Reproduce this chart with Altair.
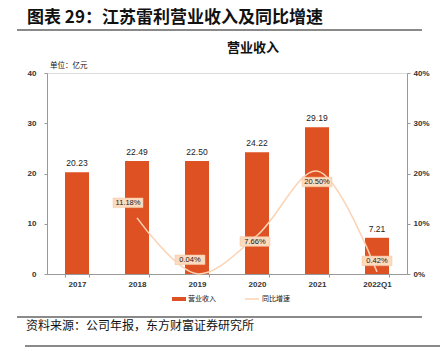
import altair as alt
import pandas as pd

years = ["2017", "2018", "2019", "2020", "2021", "2022Q1"]
revenue = [20.23, 22.49, 22.50, 24.22, 29.19, 7.21]
growth = [None, 11.18, 0.04, 7.66, 20.50, 0.42]

title_text = "图表 29：江苏雷利营业收入及同比增速"
chart_title = "营业收入"
unit_text = "单位：亿元"
source_text = "资料来源：公司年报，东方财富证券研究所"
legend_labels = ["营业收入", "同比增速"]

BAR = "#DE5122"
LINE = "#FBD3B4"
BOX = "#FCDABD"
CJK = "Noto Sans CJK SC"
LAT = "Liberation Sans"

df = pd.DataFrame({"year": years, "revenue": revenue, "growth": growth})
df["rev_label"] = [f"{v:.2f}" for v in revenue]
df["g_label"] = [("" if g is None else f"{g:.2f}%") for g in growth]

W, H = 360, 201

x = alt.X("year:N", sort=years, title=None,
          scale=alt.Scale(paddingInner=0.6, paddingOuter=0.3),
          axis=alt.Axis(labelAngle=0, labelFont=LAT, labelFontSize=8, labelFontWeight="bold",
                        labelColor="#333", domainColor="#999", tickColor="#999", tickSize=3,
                        tickBand="extent", labelPadding=3))

base = alt.Chart(df)

bars = base.mark_bar(color=BAR).encode(
    x=x,
    y=alt.Y("revenue:Q", title=None, scale=alt.Scale(domain=[0, 40]),
            axis=alt.Axis(values=[0, 10, 20, 30, 40], grid=False, labelFont=LAT, labelFontSize=8,
                          labelFontWeight="bold", labelColor="#333", domainColor="#999",
                          tickColor="#999", tickSize=3, labelPadding=8)),
)
bar_text = base.mark_text(baseline="bottom", dy=-4, font=LAT, fontSize=8.5, color="#222").encode(
    x=alt.X("year:N", sort=years), y="revenue:Q", text="rev_label:N")

gdf = df.dropna(subset=["growth"])
gbase = alt.Chart(gdf)
gy = alt.Y("growth:Q", title=None, scale=alt.Scale(domain=[0, 40]),
           axis=alt.Axis(orient="right", values=[0, 10, 20, 30, 40], grid=False,
                         labelExpr="datum.value + '%'", labelFont=LAT, labelFontSize=8,
                         labelFontWeight="bold", labelColor="#333", domainColor="#999",
                         tickColor="#999", tickSize=3, labelPadding=3))
line = gbase.mark_line(color=LINE, strokeWidth=1.5, interpolate="catmull-rom").encode(
    x=alt.X("year:N", sort=years), y=gy)

offsets = {"2018": (-9, -15), "2019": (-7, -14), "2020": (-2, 6), "2021": (0, 11), "2022Q1": (0, -11)}
box_path = "M-1,-0.32L1,-0.32L1,0.32L-1,0.32Z"
label_layers = []
for yr, (ox, oy) in offsets.items():
    sub = gbase.transform_filter(alt.datum.year == yr)
    label_layers.append(sub.mark_point(shape=box_path, size=900, filled=True, fill=BOX,
                                       stroke="#F3C7A2", strokeWidth=0.5, opacity=1,
                                       xOffset=ox, yOffset=oy).encode(
        x=alt.X("year:N", sort=years), y=gy))
    label_layers.append(sub.mark_text(dx=ox, dy=oy, font=LAT, fontSize=7.5, color="#222").encode(
        x=alt.X("year:N", sort=years), y=gy, text="g_label:N"))

pct = alt.layer(line, *label_layers)

# annotations (pixel positions relative to the plot origin at (47, 73))
one = alt.Chart(pd.DataFrame({"a": [0]}))
def txt(s, x0, y0, size, weight="normal", align="left", font=CJK, color="#111"):
    return one.mark_text(text=s, align=align, baseline="middle", fontSize=size, fontWeight=weight,
                         font=font, color=color).encode(x=alt.value(x0), y=alt.value(y0))
def rule(x0, x1, y0, color, width):
    return one.mark_rule(color=color, strokeWidth=width).encode(
        x=alt.value(x0), x2=alt.value(x1), y=alt.value(y0))

ann = alt.layer(
    txt(title_text, -20, -55, 17, "bold"),
    rule(-30, 375, -43, "#8A8A8A", 2),
    txt(chart_title, 180, -25, 13, "bold"),
    txt(unit_text, 3, -7, 7.5),
    rule(125, 139, 226, BAR, 4),
    txt(legend_labels[0], 141, 226, 7),
    rule(198, 212, 226, LINE, 1.5),
    txt(legend_labels[1], 215, 226, 7),
    rule(-30, 375, 244, "#8A8A8A", 2),
    txt(source_text, -21, 253, 12),
    rule(-22, 393, 273, "#8A8A8A", 2),
)

left = alt.layer(bars, bar_text)
chart = alt.layer(left, pct, ann).resolve_scale(y="independent").properties(
    width=W, height=H,
    autosize=alt.AutoSizeParams(type="none"),
    padding={"left": 47, "top": 73, "right": 33, "bottom": 77},
).configure_view(stroke=None).configure(background="white")

chart.save("out.html", embed_options={"renderer": "svg", "actions": False})
